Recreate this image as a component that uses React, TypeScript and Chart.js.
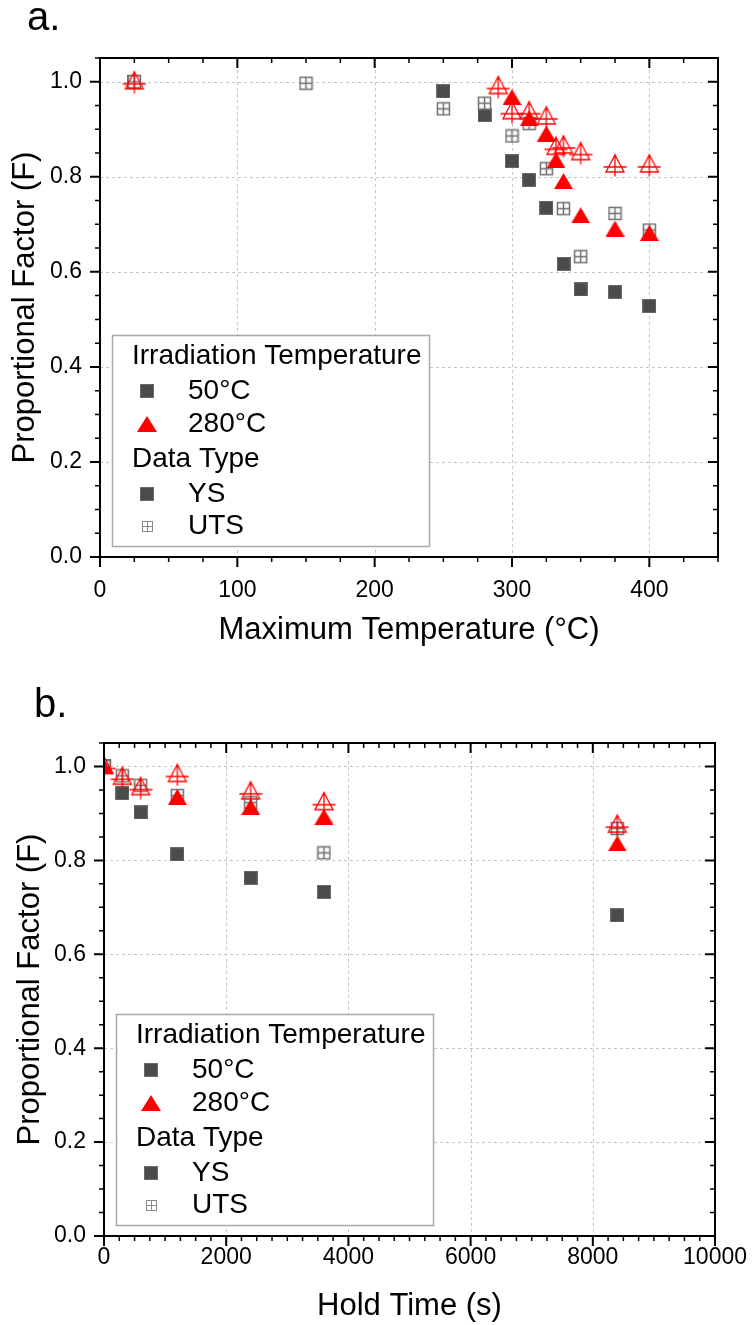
import React, { useEffect, useRef } from 'react';
import { Chart, registerables } from 'chart.js';

Chart.register(...registerables);

const FONT = "'Liberation Sans', Arial, Helvetica, sans-serif";
const W = 755;
const H_A = 662;
const H_B = 663;

// ---------- Panel a: proportional factor vs maximum temperature ----------
const maxTempYS50 = [25, 250, 280, 300, 312.5, 325, 337.5, 350, 375, 400];
const factorYS50A = [1.0, 0.98, 0.93, 0.833, 0.793, 0.735, 0.617, 0.563, 0.558, 0.528];
const maxTempUTS50 = [25, 150, 250, 280, 300, 312.5, 325, 337.5, 350, 375, 400];
const factorUTS50A = [1.0, 0.997, 0.943, 0.955, 0.886, 0.912, 0.817, 0.733, 0.632, 0.723, 0.688];
const maxTempYS280 = [300, 312.5, 325, 332, 337.5, 350, 375, 400];
const factorYS280A = [0.968, 0.923, 0.891, 0.835, 0.791, 0.719, 0.691, 0.682];
const maxTempUTS280 = [25, 290, 300, 312.5, 325, 332, 337.5, 350, 375, 400];
const factorUTS280A = [1.0, 0.99, 0.937, 0.937, 0.926, 0.862, 0.865, 0.851, 0.825, 0.825];

// ---------- Panel b: proportional factor vs hold time ----------
const holdTimeYS50 = [0, 300, 600, 1200, 2400, 3600, 8400];
const factorYS50B = [1.0, 0.943, 0.902, 0.813, 0.763, 0.733, 0.683];
const holdTimeUTS50 = [0, 300, 600, 1200, 2400, 3600, 8400];
const factorUTS50B = [1.0, 0.98, 0.96, 0.938, 0.923, 0.816, 0.868];
const holdTimeYS280 = [0, 1200, 2400, 3600, 8400];
const factorYS280B = [1.0, 0.935, 0.914, 0.893, 0.836];
const holdTimeUTS280 = [0, 300, 600, 1200, 2400, 3600, 8400];
const factorUTS280B = [1.0, 0.977, 0.955, 0.983, 0.946, 0.923, 0.875];

// ---------- Axes ----------
const tempTicks = [0, 100, 200, 300, 400];
const holdTicks = [0, 2000, 4000, 6000, 8000, 10000];
const factorTicks = [0.0, 0.2, 0.4, 0.6, 0.8, 1.0];

// ---------- Texts ----------
const panelLabels = ['a.', 'b.'];
const xTitles = ['Maximum Temperature (°C)', 'Hold Time (s)'];
const yTitle = 'Proportional Factor (F)';
const legendGroupIrr = 'Irradiation Temperature';
const legendIrrLabels = ['50°C', '280°C'];
const legendGroupType = 'Data Type';
const legendTypeLabels = ['YS', 'UTS'];

const DARK = '#4b4b4b';
const RED = '#ff0000';
const UTS_GRAY = '#707070';

function makeCanvas(w: number, h: number, draw: (c: CanvasRenderingContext2D) => void) {
  const c = document.createElement('canvas');
  c.width = w;
  c.height = h;
  const ctx = c.getContext('2d')!;
  draw(ctx);
  return c;
}

function crossSquare(size: number, color: string, lw: number) {
  return makeCanvas(size, size, (ctx) => {
    const m = 1;
    ctx.fillStyle = '#fff';
    ctx.fillRect(m, m, size - 2 * m, size - 2 * m);
    ctx.strokeStyle = color;
    ctx.lineWidth = lw;
    ctx.strokeRect(m + 0.5, m + 0.5, size - 2 * m - 1, size - 2 * m - 1);
    ctx.beginPath();
    ctx.moveTo(size / 2, m);
    ctx.lineTo(size / 2, size - m);
    ctx.moveTo(m, size / 2);
    ctx.lineTo(size - m, size / 2);
    ctx.stroke();
  });
}

function filledSquare(size: number) {
  return makeCanvas(size, size, (ctx) => {
    ctx.fillStyle = DARK;
    ctx.fillRect(0, 0, size, size);
    ctx.strokeStyle = '#6a6a6a';
    ctx.lineWidth = 1;
    ctx.strokeRect(0.5, 0.5, size - 1, size - 1);
  });
}

function filledTriangle(w: number, h: number) {
  return makeCanvas(w, h, (ctx) => {
    ctx.fillStyle = RED;
    ctx.beginPath();
    ctx.moveTo(w / 2, 0);
    ctx.lineTo(w, h);
    ctx.lineTo(0, h);
    ctx.closePath();
    ctx.fill();
  });
}

function crossTriangle() {
  return makeCanvas(24, 24, (ctx) => {
    ctx.strokeStyle = RED;
    ctx.lineWidth = 1.3;
    ctx.beginPath();
    ctx.moveTo(12, 2);
    ctx.lineTo(21, 19);
    ctx.lineTo(3, 19);
    ctx.closePath();
    ctx.moveTo(12, 1);
    ctx.lineTo(12, 23.5);
    ctx.moveTo(0.5, 14);
    ctx.lineTo(23.5, 14);
    ctx.stroke();
  });
}

const zip = (xs: number[], ys: number[]) => xs.map((x, i) => ({ x, y: ys[i] }));

function drawLegend(ctx: CanvasRenderingContext2D, area: any, m: any) {
  const w = 317;
  const h = 211;
  const left = area.left + 12;
  const top = area.bottom - 11 - h;
  ctx.save();
  ctx.fillStyle = '#fff';
  ctx.fillRect(left, top, w, h);
  ctx.strokeStyle = '#a8a8a8';
  ctx.lineWidth = 1.5;
  ctx.strokeRect(left + 0.5, top + 0.5, w, h);
  ctx.fillStyle = '#000';
  ctx.font = `28px ${FONT}`;
  ctx.textBaseline = 'middle';
  ctx.textAlign = 'left';
  const mx = left + 35;
  const tx = left + 76;
  const rows: { dy: number; text: string; icon?: HTMLCanvasElement; header?: boolean }[] = [
    { dy: 21, text: legendGroupIrr, header: true },
    { dy: 56, text: legendIrrLabels[0], icon: m.legSq },
    { dy: 89, text: legendIrrLabels[1], icon: m.legTri },
    { dy: 124, text: legendGroupType, header: true },
    { dy: 159, text: legendTypeLabels[0], icon: m.legSq },
    { dy: 191, text: legendTypeLabels[1], icon: m.legUts },
  ];
  for (const r of rows) {
    const y = top + r.dy;
    if (r.header) {
      ctx.fillText(r.text, left + 20, y);
    } else {
      if (r.icon) ctx.drawImage(r.icon, Math.round(mx - r.icon.width / 2), Math.round(y - r.icon.height / 2));
      ctx.fillText(r.text, tx, y);
    }
  }
  ctx.restore();
}

const framePlugin = {
  id: 'sciFrame',
  beforeDatasetsDraw(chart: any, _a: any, opts: any) {
    const { ctx, chartArea: a, scales } = chart;
    const x = scales.x;
    const y = scales.y;
    ctx.save();
    ctx.strokeStyle = '#c6c6c6';
    ctx.lineWidth = 1;
    ctx.setLineDash([3, 3]);
    for (const v of opts.xGrid) {
      const px = Math.round(x.getPixelForValue(v)) + 0.5;
      ctx.beginPath();
      ctx.moveTo(px, a.top);
      ctx.lineTo(px, a.bottom);
      ctx.stroke();
    }
    for (const v of opts.yGrid) {
      const py = Math.round(y.getPixelForValue(v)) + 0.5;
      ctx.beginPath();
      ctx.moveTo(a.left, py);
      ctx.lineTo(a.right, py);
      ctx.stroke();
    }
    ctx.restore();
  },
  afterDatasetsDraw(chart: any, _a: any, opts: any) {
    const { ctx, chartArea: a, scales } = chart;
    const x = scales.x;
    const y = scales.y;
    drawLegend(ctx, a, opts.markers);
    ctx.save();
    ctx.strokeStyle = '#000';
    ctx.lineWidth = 2;
    ctx.strokeRect(a.left, a.top, a.right - a.left, a.bottom - a.top);
    const major = 10;
    const minor = 5;
    const isMajor = (v: number, list: number[]) => list.some((t) => Math.abs(t - v) < 1e-9);
    for (let v = x.min; v <= x.max + 1e-9; v += opts.xMinorStep) {
      const px = x.getPixelForValue(v);
      const len = isMajor(v, opts.xMajor) ? major : minor;
      ctx.lineWidth = len === major ? 2 : 1.5;
      ctx.beginPath();
      ctx.moveTo(px, a.bottom);
      ctx.lineTo(px, a.bottom + len);
      ctx.moveTo(px, a.top);
      ctx.lineTo(px, a.top + len);
      ctx.stroke();
    }
    for (let i = 0; ; i++) {
      const v = y.min + i * opts.yMinorStep;
      if (v > y.max + 1e-9) break;
      const py = y.getPixelForValue(v);
      const len = isMajor(Math.round(v * 1000) / 1000, opts.yMajor) ? major : minor;
      ctx.lineWidth = len === major ? 2 : 1.5;
      ctx.beginPath();
      ctx.moveTo(a.left, py);
      ctx.lineTo(a.left - len, py);
      ctx.moveTo(a.right, py);
      ctx.lineTo(a.right - len, py);
      ctx.stroke();
    }
    ctx.restore();
  },
  afterDraw(chart: any, _a: any, opts: any) {
    const { ctx } = chart;
    ctx.save();
    ctx.fillStyle = '#000';
    ctx.font = `40px ${FONT}`;
    ctx.textBaseline = 'alphabetic';
    ctx.textAlign = 'left';
    ctx.fillText(opts.label, opts.labelX, opts.labelY);
    ctx.restore();
  },
};

function buildConfig(p: any, markers: any) {
  const ds = (label: string, data: any[], style: any, order: number) => ({
    label,
    data,
    pointStyle: style,
    pointRadius: 10,
    pointHoverRadius: 10,
    backgroundColor: DARK,
    borderColor: DARK,
    borderWidth: 0,
    showLine: false,
    order,
    clip: 0,
  });
  return {
    type: 'scatter',
    data: {
      datasets: [
        ds('UTS 280°C', p.uts280, markers.crossTri, 0),
        ds('YS 280°C', p.ys280, markers.fillTri, 1),
        ds('UTS 50°C', p.uts50, markers.crossSq, 2),
        ds('YS 50°C', p.ys50, markers.fillSq, 3),
      ],
    },
    options: {
      animation: false,
      responsive: false,
      maintainAspectRatio: false,
      events: [],
      layout: { padding: { left: 0, top: p.area.top, right: W - p.area.right, bottom: 0 } },
      plugins: {
        legend: { display: false },
        tooltip: { enabled: false },
        sciFrame: {
          xGrid: p.xTicks.filter((v: number) => v > p.xMin && v < p.xMax),
          yGrid: factorTicks.filter((v) => v > 0 && v < 1.05),
          xMajor: p.xTicks,
          yMajor: factorTicks,
          xMinorStep: p.xMinorStep,
          yMinorStep: 0.05,
          markers,
          label: p.label,
          labelX: p.labelX,
          labelY: p.labelY,
        },
      },
      scales: {
        x: {
          type: 'linear',
          min: p.xMin,
          max: p.xMax,
          afterBuildTicks: (s: any) => {
            s.ticks = p.xTicks.map((v: number) => ({ value: v }));
          },
          afterFit: (s: any) => {
            s.height = p.h - p.area.bottom;
          },
          grid: { display: false, drawTicks: false },
          border: { display: false },
          ticks: {
            color: '#000',
            font: { family: FONT, size: 23 },
            padding: p.xTickPad,
            maxRotation: 0,
            autoSkip: false,
            callback: (v: number) => String(v),
          },
          title: {
            display: true,
            text: p.xTitle,
            color: '#000',
            font: { family: FONT, size: 31 },
            padding: { top: 0, bottom: p.xTitlePad },
          },
        },
        y: {
          type: 'linear',
          min: 0,
          max: 1.05,
          afterBuildTicks: (s: any) => {
            s.ticks = factorTicks.map((v) => ({ value: v }));
          },
          afterFit: (s: any) => {
            s.width = p.area.left;
          },
          grid: { display: false, drawTicks: false },
          border: { display: false },
          ticks: {
            color: '#000',
            font: { family: FONT, size: 23 },
            padding: 18,
            callback: (v: number) => Number(v).toFixed(1),
          },
          title: {
            display: true,
            text: yTitle,
            color: '#000',
            font: { family: FONT, size: 31 },
            padding: { top: p.yTitlePad, bottom: 0 },
          },
        },
      },
    },
    plugins: [framePlugin],
  };
}

export default function App() {
  const refA = useRef<HTMLCanvasElement>(null);
  const refB = useRef<HTMLCanvasElement>(null);

  useEffect(() => {
    const markers = {
      fillSq: filledSquare(14),
      crossSq: crossSquare(15, UTS_GRAY, 1.5),
      fillTri: filledTriangle(19, 16),
      crossTri: crossTriangle(),
      legSq: filledSquare(14),
      legTri: filledTriangle(20, 16),
      legUts: crossSquare(13, '#8a8a8a', 1),
    };
    const panelA = {
      label: panelLabels[0],
      labelX: 27,
      labelY: 30,
      h: H_A,
      area: { left: 100, right: 718, top: 58, bottom: 557 },
      xMin: 0,
      xMax: 450,
      xTicks: tempTicks,
      xMinorStep: 25,
      xTitle: xTitles[0],
      xTickPad: 20,
      xTitlePad: 13,
      yTitlePad: 7,
      ys50: zip(maxTempYS50, factorYS50A),
      uts50: zip(maxTempUTS50, factorUTS50A),
      ys280: zip(maxTempYS280, factorYS280A),
      uts280: zip(maxTempUTS280, factorUTS280A),
    };
    const panelB = {
      label: panelLabels[1],
      labelX: 34,
      labelY: 55,
      h: H_B,
      area: { left: 104, right: 720, top: 81, bottom: 574 },
      xMin: 0,
      xMax: 10000,
      xTicks: holdTicks,
      xMinorStep: 250,
      xTitle: xTitles[1],
      xTickPad: 8,
      xTitlePad: 0,
      yTitlePad: 12,
      ys50: zip(holdTimeYS50, factorYS50B),
      uts50: zip(holdTimeUTS50, factorUTS50B),
      ys280: zip(holdTimeYS280, factorYS280B),
      uts280: zip(holdTimeUTS280, factorUTS280B),
    };
    const ca = new Chart(refA.current!, buildConfig(panelA, markers) as any);
    const cb = new Chart(refB.current!, buildConfig(panelB, markers) as any);
    return () => {
      ca.destroy();
      cb.destroy();
    };
  }, []);

  return (
    <div style={{ position: 'absolute', left: 0, top: 0, width: W, height: H_A + H_B, background: '#fff' }}>
      <canvas ref={refA} width={W} height={H_A} style={{ display: 'block', width: W, height: H_A }} />
      <canvas ref={refB} width={W} height={H_B} style={{ display: 'block', width: W, height: H_B }} />
    </div>
  );
}
